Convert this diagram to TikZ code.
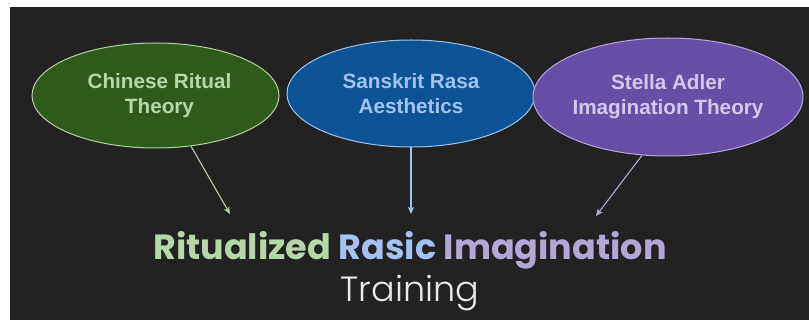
\documentclass[tikz,border=0pt]{standalone}
\usepackage{fontspec}
\setmainfont{Liberation Sans}
\newfontfamily\titlefont{Poppins}
\newfontfamily\lightfont{Poppins Light}
\usetikzlibrary{shapes.geometric,arrows.meta}
\definecolor{bgdark}{HTML}{222222}
\definecolor{gfill}{HTML}{2E5A1B}
\definecolor{bfill}{HTML}{0B5394}
\definecolor{pfill}{HTML}{674EA7}
\definecolor{gtext}{HTML}{B6D7A8}
\definecolor{btext}{HTML}{A4C2F4}
\definecolor{ptext}{HTML}{D3C8F0}
\definecolor{gline}{HTML}{B6D0A4}
\definecolor{bline}{HTML}{9FC5E8}
\definecolor{pline}{HTML}{B4A7D6}
\definecolor{trainc}{HTML}{EAEAEA}
\begin{document}
\begin{tikzpicture}[x=1pt,y=-1pt,
  bubble/.style={ellipse,inner sep=0pt,line width=1pt,align=center,
    font=\fontsize{20.7}{25}\selectfont\bfseries},
  conn/.style={line width=1.1pt,-{Stealth[length=7pt,width=6pt,inset=1.5pt]}}]
\fill[white] (0,0) rectangle (809,320);
\useasboundingbox (0,0) rectangle (809,320);
\fill[bgdark] (10,7) rectangle (809,320);

\node[bubble,draw=gline,fill=gfill,text=gtext,minimum width=247pt,minimum height=105pt] (chinese) at (155.5,95.5) {\hspace*{8pt}Chinese Ritual\\\hspace*{8pt}Theory};
\node[bubble,draw=bline,fill=bfill,text=btext,minimum width=248pt,minimum height=107pt] (sanskrit) at (411,93.5) {Sanskrit Rasa\\Aesthetics};
\node[bubble,draw=pline,fill=pfill,text=ptext,minimum width=248pt,minimum height=118pt] (adler) at (668,97) {Stella Adler\\Imagination Theory};

\node[anchor=base,inner sep=0pt,font=\titlefont\bfseries\fontsize{35}{40}\selectfont] (title) at (410,260)
  {\textcolor{gtext}{Ritualized} \textcolor{btext}{Rasic} \textcolor{pline}{Imagination}};
\node[anchor=base,inner sep=0pt,text=trainc,font=\lightfont\fontsize{35}{40}\selectfont] (training) at (410,302) {Training};

\coordinate (gEnd) at (230,214);
\coordinate (bEnd) at (411,214);
\coordinate (pEnd) at (596,216);
\draw[conn,gline] (chinese.-55) -- (gEnd);
\draw[conn,bline] (sanskrit.south) -- (bEnd);
\draw[conn,pline] (adler.-114) -- (pEnd);
\end{tikzpicture}
\end{document}
